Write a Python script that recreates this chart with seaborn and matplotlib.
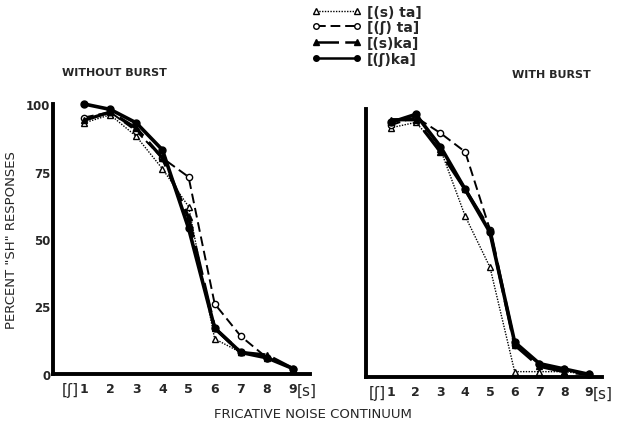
import matplotlib
matplotlib.use("Agg")
import matplotlib.pyplot as plt
import seaborn as sns
import pandas as pd
from matplotlib.lines import Line2D

sns.set_theme(style="white")
plt.rcParams['font.family'] = ['DejaVu Sans']

steps = [1, 2, 3, 4, 5, 6, 7, 8, 9]
xtick_labels = ["1", "2", "3", "4", "5", "6", "7", "8", "9"]
end_labels = ["[ʃ]", "[s]"]
ytick_values = [0, 25, 50, 75, 100]
series_names = ["[(s) ta]", "[(ʃ) ta]", "[(s)ka]", "[(ʃ)ka]"]

# WITHOUT BURST
wo_s_ta = [93, 96, 88, 76, 62, 13, 8, 6, 2]
wo_sh_ta = [95, 97, 90, 80, 73, 26, 14, 6, 2]
wo_s_ka = [94, 97, 91, 80, 58, 17, 8, 7, 2]
wo_sh_ka = [100, 98, 93, 83, 54, 17, 8, 6, 2]

# WITH BURST
w_s_ta = [93, 95, 85, 60, 41, 2, 2, 2, 1]
w_sh_ta = [94, 97, 91, 84, 55, 12, 5, 3, 1]
w_s_ka = [96, 96, 84, 70, 55, 12, 4, 2, 1]
w_sh_ka = [95, 98, 86, 70, 54, 13, 5, 3, 1]

styles = [
    dict(marker="^", mfc="white", ls=(0, (1, 1)), lw=1.0, ms=4.5),
    dict(marker="o", mfc="white", ls=(0, (5, 2.5)), lw=1.4, ms=4.5),
    dict(marker="^", mfc="black", ls=(0, (9, 2.5)), lw=2.4, ms=5),
    dict(marker="o", mfc="black", ls="-", lw=2.6, ms=5),
]

fig = plt.figure(figsize=(6.17, 4.35), dpi=100)
ax1 = fig.add_axes([53/617, 60/435, 257/617, 270/435])
ax2 = fig.add_axes([366/617, 57/435, 236/617, 268/435])

panels = [
    (ax1, [wo_s_ta, wo_sh_ta, wo_s_ka, wo_sh_ka], (-0.19, 9.65)),
    (ax2, [w_s_ta, w_sh_ta, w_s_ka, w_sh_ka], (-0.01, 9.53)),
]

for ax, vals, xl in panels:
    for name, v, st in zip(series_names, vals, styles):
        df = pd.DataFrame({"step": steps, "pct": v})
        sns.lineplot(data=df, x="step", y="pct", ax=ax, color="black",
                     marker=st["marker"], markerfacecolor=st["mfc"],
                     markeredgecolor="black", markeredgewidth=1.0,
                     markersize=st["ms"], linestyle=st["ls"], linewidth=st["lw"],
                     clip_on=False, legend=False)
    ax.set_xlim(*xl)
    ax.set_ylim(0, 100)
    for s in ["top", "right"]:
        ax.spines[s].set_visible(False)
    for s in ["left", "bottom"]:
        ax.spines[s].set_color("black")
        ax.spines[s].set_linewidth(2.8)
    ax.set_xticks(steps)
    ax.set_xticklabels(xtick_labels, fontsize=9, fontweight="bold")
    ax.set_yticks(ytick_values)
    ax.tick_params(axis="x", direction="in", length=4, width=1.2, pad=6, color="black")
    ax.tick_params(axis="y", direction="in", length=6, width=1.4, pad=2, color="black")
    ax.set_xlabel("")
    ax.set_ylabel("")
    ax.grid(False)
    # bracketed end labels beside 1 and 9
    ax.annotate(end_labels[0], xy=(steps[0], 0), xycoords="data", xytext=(-4, -11.5),
                textcoords="offset points", ha="right", va="center", fontsize=11,
                annotation_clip=False)
    ax.annotate(end_labels[1], xy=(steps[-1], 0), xycoords="data", xytext=(3, -11.5),
                textcoords="offset points", ha="left", va="center", fontsize=11,
                annotation_clip=False)

ax1.set_yticklabels([str(t) for t in ytick_values], fontsize=8.5, fontweight="bold")
ax2.set_yticklabels([])

fig.text(62/617, 1 - 73/435, "WITHOUT BURST", fontsize=8, fontweight="bold", va="center", ha="left")
fig.text(512/617, 1 - 75/435, "WITH BURST", fontsize=8, fontweight="bold", va="center", ha="left")
fig.text(12/617, 1 - 240/435, 'PERCENT "SH" RESPONSES', fontsize=9.5, rotation=90,
         va="center", ha="center")
fig.text(313/617, 1 - 415/435, "FRICATIVE NOISE CONTINUUM", fontsize=9.5,
         va="center", ha="center")

handles = [Line2D([0], [0], color="black", marker=st["marker"], markerfacecolor=st["mfc"],
                  markeredgecolor="black", markersize=4, linestyle=st["ls"],
                  linewidth=min(st["lw"], 1.8)) for st in styles]
fig.legend(handles, series_names, loc="upper left", bbox_to_anchor=(306/617, 1 - 0/435),
           frameon=False, numpoints=2, handlelength=3.6, handletextpad=0.4,
           labelspacing=0.12, prop=dict(size=10, weight="bold"), borderaxespad=0)

fig.savefig("out.png", dpi=100)
